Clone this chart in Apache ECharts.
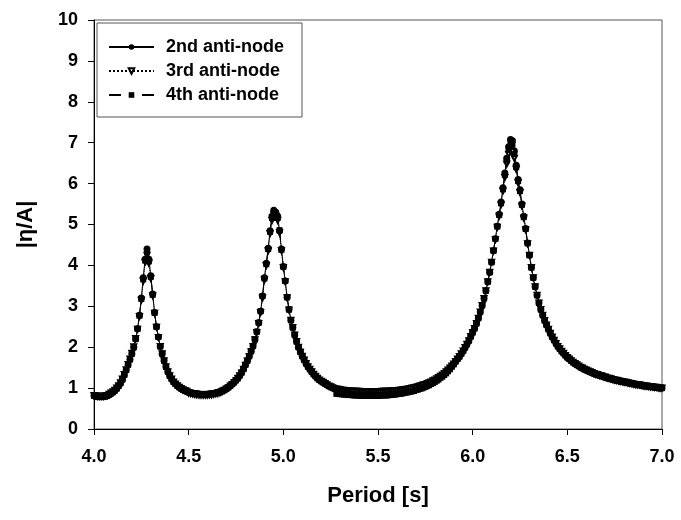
<!DOCTYPE html>
<html>
<head>
<meta charset="utf-8">
<script src="https://cdn.jsdelivr.net/npm/echarts@6/dist/echarts.min.js"></script>
<style>
  html, body { margin: 0; padding: 0; background: #fff; }
  #chart { width: 681px; height: 520px; }
</style>
</head>
<body>
<div id="chart"></div>
<script>
// |eta/A| at three anti-nodes vs wave period

const periods = [
  4.00,4.01,4.02,4.03,4.04,4.05,4.06,4.07,4.08,4.09,
  4.10,4.11,4.12,4.13,4.14,4.15,4.16,4.17,4.18,4.19,
  4.20,4.21,4.22,4.23,4.24,4.25,4.26,4.27,4.28,4.29,
  4.30,4.31,4.32,4.33,4.34,4.35,4.36,4.37,4.38,4.39,
  4.40,4.41,4.42,4.43,4.44,4.45,4.46,4.47,4.48,4.49,
  4.50,4.51,4.52,4.53,4.54,4.55,4.56,4.57,4.58,4.59,
  4.60,4.61,4.62,4.63,4.64,4.65,4.66,4.67,4.68,4.69,
  4.70,4.71,4.72,4.73,4.74,4.75,4.76,4.77,4.78,4.79,
  4.80,4.81,4.82,4.83,4.84,4.85,4.86,4.87,4.88,4.89,
  4.90,4.91,4.92,4.93,4.94,4.95,4.96,4.97,4.98,4.99,
  5.00,5.01,5.02,5.03,5.04,5.05,5.06,5.07,5.08,5.09,
  5.10,5.11,5.12,5.13,5.14,5.15,5.16,5.17,5.18,5.19,
  5.20,5.21,5.22,5.23,5.24,5.25,5.26,5.27,5.28,5.29,
  5.30,5.31,5.32,5.33,5.34,5.35,5.36,5.37,5.38,5.39,
  5.40,5.41,5.42,5.43,5.44,5.45,5.46,5.47,5.48,5.49,
  5.50,5.51,5.52,5.53,5.54,5.55,5.56,5.57,5.58,5.59,
  5.60,5.61,5.62,5.63,5.64,5.65,5.66,5.67,5.68,5.69,
  5.70,5.71,5.72,5.73,5.74,5.75,5.76,5.77,5.78,5.79,
  5.80,5.81,5.82,5.83,5.84,5.85,5.86,5.87,5.88,5.89,
  5.90,5.91,5.92,5.93,5.94,5.95,5.96,5.97,5.98,5.99,
  6.00,6.01,6.02,6.03,6.04,6.05,6.06,6.07,6.08,6.09,
  6.10,6.11,6.12,6.13,6.14,6.15,6.16,6.17,6.18,6.19,
  6.20,6.21,6.22,6.23,6.24,6.25,6.26,6.27,6.28,6.29,
  6.30,6.31,6.32,6.33,6.34,6.35,6.36,6.37,6.38,6.39,
  6.40,6.41,6.42,6.43,6.44,6.45,6.46,6.47,6.48,6.49,
  6.50,6.51,6.52,6.53,6.54,6.55,6.56,6.57,6.58,6.59,
  6.60,6.61,6.62,6.63,6.64,6.65,6.66,6.67,6.68,6.69,
  6.70,6.71,6.72,6.73,6.74,6.75,6.76,6.77,6.78,6.79,
  6.80,6.81,6.82,6.83,6.84,6.85,6.86,6.87,6.88,6.89,
  6.90,6.91,6.92,6.93,6.94,6.95,6.96,6.97,6.98,6.99,
  7.00
];

const antiNode2 = [
  0.81,0.80,0.79,0.79,0.79,0.79,0.80,0.81,0.84,0.87,
  0.90,0.94,0.99,1.05,1.12,1.21,1.32,1.44,1.57,1.70,
  1.84,2.00,2.20,2.45,2.78,3.20,3.70,4.15,4.40,4.15,
  3.75,3.30,2.85,2.50,2.25,2.02,1.84,1.67,1.52,1.40,
  1.30,1.22,1.15,1.10,1.06,1.02,0.99,0.96,0.94,0.92,
  0.90,0.89,0.88,0.87,0.86,0.86,0.85,0.85,0.85,0.85,
  0.85,0.86,0.86,0.87,0.88,0.89,0.90,0.92,0.94,0.96,
  0.99,1.02,1.06,1.10,1.14,1.19,1.24,1.31,1.38,1.47,
  1.57,1.67,1.78,1.90,2.03,2.19,2.38,2.60,2.88,3.25,
  3.70,4.05,4.42,4.85,5.20,5.35,5.30,5.20,4.85,4.40,
  3.97,3.62,3.22,2.92,2.66,2.48,2.30,2.14,2.00,1.88,
  1.78,1.69,1.60,1.52,1.46,1.40,1.34,1.29,1.24,1.20,
  1.17,1.14,1.11,1.08,1.05,1.03,1.01,0.99,0.98,0.97,
  0.96,0.95,0.95,0.94,0.93,0.93,0.93,0.92,0.92,0.92,
  0.92,0.91,0.91,0.91,0.91,0.91,0.91,0.91,0.91,0.91,
  0.91,0.91,0.92,0.92,0.92,0.92,0.93,0.93,0.93,0.94,
  0.94,0.95,0.95,0.96,0.96,0.97,0.98,0.99,1.00,1.01,
  1.02,1.03,1.05,1.06,1.08,1.09,1.11,1.13,1.15,1.18,
  1.20,1.23,1.26,1.29,1.32,1.36,1.40,1.44,1.49,1.54,
  1.59,1.65,1.71,1.77,1.84,1.91,1.99,2.07,2.16,2.26,
  2.36,2.46,2.58,2.71,2.86,3.02,3.19,3.38,3.60,3.83,
  4.08,4.36,4.65,4.96,5.25,5.55,5.90,6.26,6.62,6.90,
  7.08,7.05,6.80,6.45,6.10,5.85,5.50,5.20,4.90,4.55,
  4.25,3.95,3.70,3.48,3.27,3.08,2.92,2.78,2.65,2.54,
  2.44,2.34,2.25,2.17,2.09,2.02,1.96,1.90,1.85,1.80,
  1.75,1.71,1.67,1.63,1.60,1.57,1.54,1.51,1.49,1.46,
  1.44,1.42,1.40,1.38,1.36,1.34,1.33,1.31,1.30,1.28,
  1.27,1.25,1.24,1.23,1.21,1.20,1.19,1.18,1.17,1.16,
  1.15,1.14,1.13,1.12,1.11,1.10,1.09,1.08,1.08,1.07,
  1.06,1.05,1.05,1.04,1.03,1.03,1.02,1.02,1.01,1.00,
  1.00
];

const antiNode3 = [
  0.82,0.81,0.80,0.80,0.80,0.80,0.81,0.82,0.85,0.88,
  0.91,0.95,1.00,1.06,1.13,1.22,1.33,1.45,1.58,1.71,
  1.85,2.01,2.21,2.44,2.75,3.15,3.62,4.08,4.25,4.05,
  3.68,3.26,2.83,2.49,2.24,2.02,1.84,1.67,1.52,1.40,
  1.30,1.22,1.15,1.10,1.06,1.02,0.99,0.96,0.94,0.92,
  0.88,0.87,0.86,0.85,0.84,0.84,0.83,0.83,0.83,0.83,
  0.83,0.84,0.84,0.85,0.86,0.87,0.88,0.90,0.92,0.95,
  0.98,1.01,1.05,1.09,1.13,1.18,1.24,1.30,1.37,1.46,
  1.56,1.66,1.77,1.89,2.02,2.18,2.36,2.58,2.85,3.20,
  3.64,4.00,4.36,4.78,5.10,5.24,5.20,5.10,4.80,4.36,
  3.95,3.60,3.21,2.91,2.66,2.48,2.30,2.14,2.00,1.88,
  1.78,1.69,1.60,1.52,1.46,1.40,1.34,1.29,1.24,1.20,
  1.17,1.14,1.11,1.08,1.05,1.03,1.01,0.99,0.98,0.97,
  0.96,0.95,0.95,0.94,0.93,0.93,0.93,0.92,0.92,0.92,
  0.92,0.91,0.91,0.91,0.91,0.91,0.91,0.91,0.91,0.91,
  0.91,0.91,0.92,0.92,0.92,0.92,0.93,0.93,0.93,0.94,
  0.94,0.95,0.95,0.96,0.96,0.97,0.98,0.99,1.00,1.01,
  1.02,1.03,1.05,1.06,1.08,1.09,1.11,1.13,1.15,1.18,
  1.20,1.23,1.26,1.29,1.32,1.36,1.40,1.44,1.49,1.54,
  1.59,1.65,1.71,1.77,1.84,1.91,1.99,2.07,2.16,2.26,
  2.36,2.46,2.58,2.71,2.86,3.02,3.19,3.38,3.60,3.83,
  4.08,4.35,4.63,4.93,5.20,5.48,5.82,6.15,6.48,6.72,
  6.82,6.78,6.62,6.35,6.02,5.78,5.45,5.16,4.87,4.53,
  4.25,3.95,3.70,3.48,3.27,3.08,2.92,2.78,2.65,2.54,
  2.44,2.34,2.25,2.17,2.09,2.02,1.96,1.90,1.85,1.80,
  1.75,1.71,1.67,1.63,1.60,1.57,1.54,1.51,1.49,1.46,
  1.44,1.42,1.40,1.38,1.36,1.34,1.33,1.31,1.30,1.28,
  1.27,1.25,1.24,1.23,1.21,1.20,1.19,1.18,1.17,1.16,
  1.15,1.14,1.13,1.12,1.11,1.10,1.09,1.08,1.08,1.07,
  1.06,1.05,1.05,1.04,1.03,1.03,1.02,1.02,1.01,1.00,
  1.00
];

const antiNode4 = [
  0.81,0.80,0.79,0.79,0.79,0.79,0.80,0.81,0.84,0.87,
  0.90,0.94,0.99,1.05,1.12,1.21,1.32,1.44,1.57,1.70,
  1.84,2.00,2.20,2.45,2.77,3.18,3.66,4.12,4.32,4.10,
  3.72,3.28,2.84,2.50,2.25,2.02,1.84,1.67,1.52,1.40,
  1.30,1.22,1.15,1.10,1.06,1.02,0.99,0.96,0.94,0.92,
  0.90,0.89,0.88,0.87,0.86,0.86,0.85,0.85,0.85,0.85,
  0.85,0.86,0.86,0.87,0.88,0.89,0.90,0.92,0.94,0.96,
  0.99,1.02,1.06,1.10,1.14,1.19,1.24,1.31,1.38,1.47,
  1.57,1.67,1.78,1.90,2.03,2.19,2.38,2.60,2.88,3.25,
  3.68,4.03,4.40,4.82,5.16,5.30,5.26,5.16,4.86,4.38,
  3.97,3.62,3.22,2.92,2.66,2.48,2.30,2.14,2.00,1.88,
  1.78,1.69,1.60,1.52,1.46,1.40,1.34,1.29,1.24,1.20,
  1.17,1.14,1.11,1.08,1.05,1.03,1.01,0.99,0.86,0.86,
  0.85,0.85,0.84,0.84,0.83,0.83,0.83,0.82,0.82,0.82,
  0.82,0.81,0.81,0.81,0.81,0.81,0.81,0.81,0.81,0.81,
  0.81,0.81,0.82,0.82,0.82,0.82,0.83,0.83,0.84,0.84,
  0.85,0.86,0.86,0.87,0.88,0.89,0.90,0.91,0.92,0.93,
  0.95,0.96,0.98,0.99,1.01,1.03,1.05,1.07,1.10,1.12,
  1.15,1.18,1.21,1.25,1.28,1.32,1.36,1.41,1.46,1.52,
  1.58,1.65,1.71,1.77,1.84,1.91,1.99,2.07,2.16,2.26,
  2.36,2.46,2.58,2.71,2.86,3.02,3.19,3.38,3.60,3.83,
  4.08,4.36,4.65,4.95,5.23,5.52,5.86,6.21,6.56,6.82,
  6.98,6.95,6.72,6.40,6.06,5.82,5.48,5.18,4.89,4.54,
  4.25,3.95,3.70,3.48,3.27,3.08,2.92,2.78,2.65,2.54,
  2.44,2.34,2.25,2.17,2.09,2.02,1.96,1.90,1.85,1.80,
  1.75,1.71,1.67,1.63,1.60,1.57,1.54,1.51,1.49,1.46,
  1.44,1.42,1.40,1.38,1.36,1.34,1.33,1.31,1.30,1.28,
  1.27,1.25,1.24,1.23,1.21,1.20,1.19,1.18,1.17,1.16,
  1.15,1.14,1.13,1.12,1.11,1.10,1.09,1.08,1.08,1.07,
  1.06,1.05,1.05,1.04,1.03,1.03,1.02,1.02,1.01,1.00,
  1.00
];

const seriesNames = ['2nd anti-node', '3rd anti-node', '4th anti-node'];

const font = "'Liberation Sans', Arial, sans-serif";
const pairs = (ys) => periods.map((p, i) => [p, ys[i]]);

const myChart = echarts.init(document.getElementById('chart'), null, { renderer: 'canvas' });

const option = {
    animation: false,
    backgroundColor: '#fff',
    grid: {
        left: 94, top: 20, width: 568, height: 409,
        show: true, borderColor: '#555', borderWidth: 1,
        containLabel: false
    },
    legend: {
        orient: 'vertical',
        left: 97, top: 23,
        padding: [15, 18, 13, 11],
        itemGap: 6,
        itemWidth: 45,
        itemHeight: 7,
        borderColor: '#555',
        borderWidth: 1,
        backgroundColor: '#fff',
        data: seriesNames,
        textStyle: {
            fontFamily: font, fontSize: 18, fontWeight: 'bold', color: '#000',
            padding: [0, 0, 0, 7]
        }
    },
    xAxis: {
        type: 'value',
        min: 4, max: 7, interval: 0.5,
        name: 'Period [s]',
        nameLocation: 'middle',
        nameGap: 56,
        nameTextStyle: { fontFamily: font, fontSize: 22, fontWeight: 'bold', color: '#000' },
        axisLine: { show: true, onZero: false, lineStyle: { color: '#000', width: 1 } },
        axisTick: { show: true, inside: false, length: 6, lineStyle: { color: '#000' } },
        axisLabel: {
            fontFamily: font, fontSize: 18, fontWeight: 'bold', color: '#000', margin: 19,
            formatter: (v) => v.toFixed(1)
        },
        splitLine: { show: false }
    },
    yAxis: {
        type: 'value',
        min: 0, max: 10, interval: 1,
        name: '|η/A|',
        nameLocation: 'middle',
        nameGap: 57,
        nameTextStyle: { fontFamily: font, fontSize: 22, fontWeight: 'bold', color: '#000' },
        axisLine: { show: true, lineStyle: { color: '#000', width: 1 } },
        axisTick: { show: true, inside: false, length: 6, lineStyle: { color: '#000' } },
        axisLabel: { fontFamily: font, fontSize: 18, fontWeight: 'bold', color: '#000', margin: 16 },
        splitLine: { show: false }
    },
    series: [
        {
            name: seriesNames[0],
            type: 'line',
            data: pairs(antiNode2),
            symbol: 'circle',
            symbolSize: 7,
            itemStyle: { color: '#000' },
            lineStyle: { color: '#000', width: 1, type: 'solid' }
        },
        {
            name: seriesNames[1],
            type: 'line',
            data: pairs(antiNode3),
            symbol: 'emptyTriangle',
            symbolRotate: 180,
            symbolSize: 5,
            itemStyle: { color: '#000', borderColor: '#000', borderWidth: 1 },
            lineStyle: { color: '#000', width: 1, type: 'dotted' }
        },
        {
            name: seriesNames[2],
            type: 'line',
            data: pairs(antiNode4),
            symbol: 'rect',
            symbolSize: 6,
            itemStyle: { color: '#000' },
            lineStyle: { color: '#000', width: 1, type: [12, 21] }
        }
    ]
};

option && myChart.setOption(option);
</script>
</body>
</html>
